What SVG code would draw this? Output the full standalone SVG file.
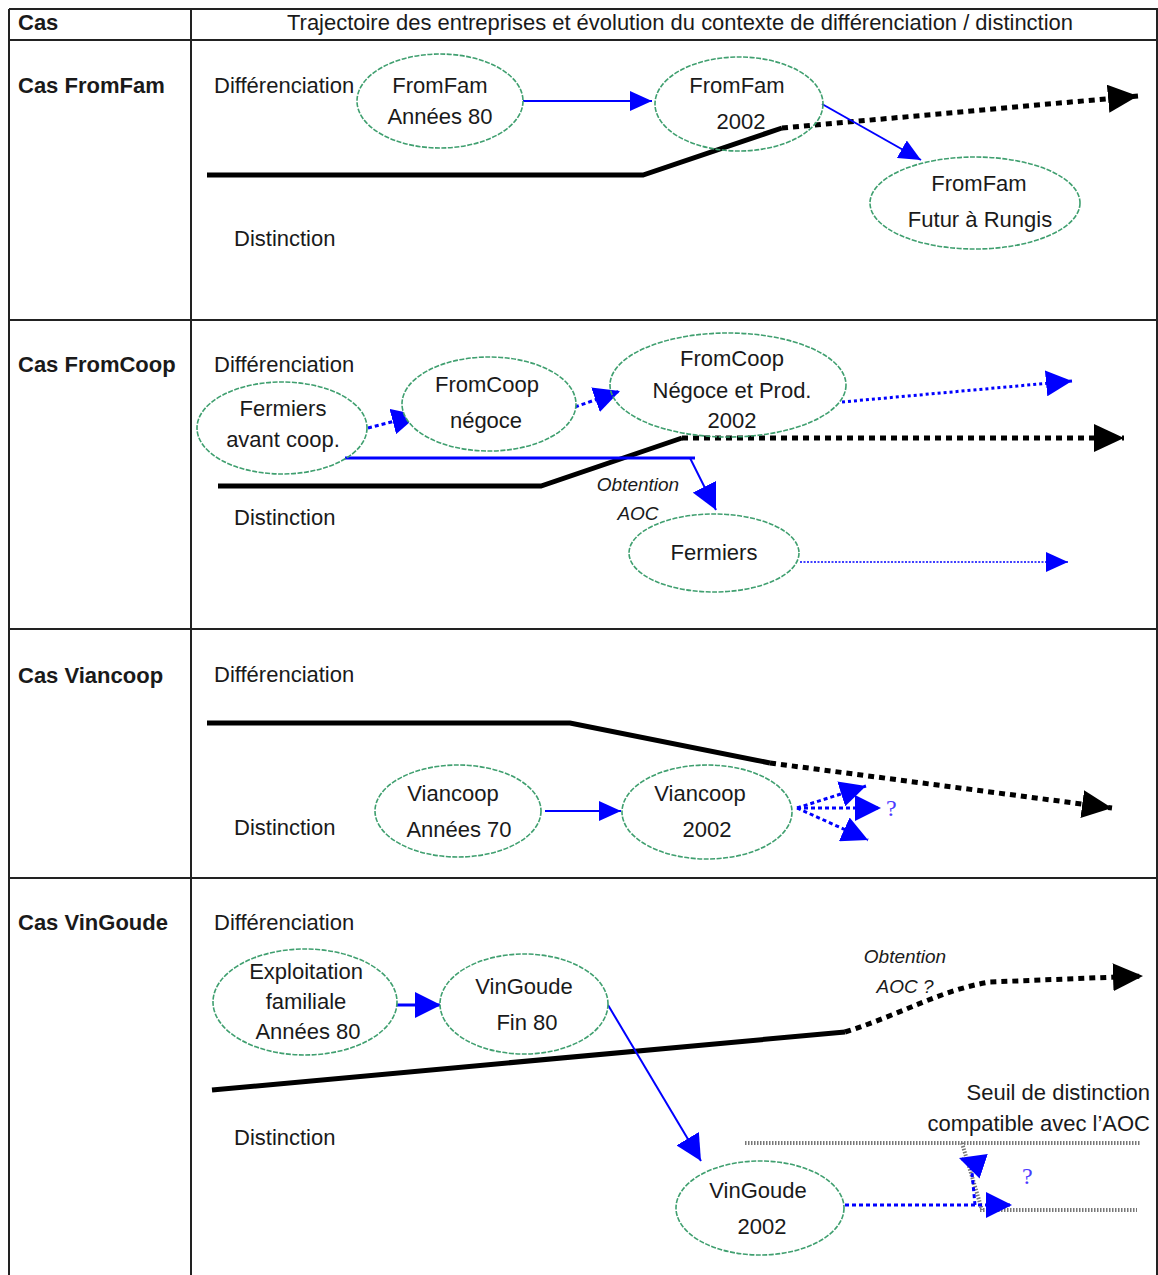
<svg xmlns="http://www.w3.org/2000/svg" width="1158" height="1275" viewBox="0 0 1158 1275">
<style>
.t{font-family:"Liberation Sans",Arial,sans-serif;font-size:22px;fill:#1a1a1a}
.c{text-anchor:middle}
.b{font-weight:bold}
.i{font-style:italic;font-size:19px}
.q{font-family:"Liberation Serif",serif;font-size:24px;fill:#4a3aff}
.grid{stroke:#222;stroke-width:2;fill:none}
.el{fill:#fff;stroke:#3f9f6f;stroke-width:1.6;stroke-dasharray:5 1.5}
.blk{stroke:#000;stroke-width:5;fill:none}
.blkd{stroke:#000;stroke-width:5;fill:none;stroke-dasharray:6 5}
.bl{stroke:#0000ff;stroke-width:2;fill:none}
.blt{stroke:#0000ff;stroke-width:3;fill:none}
.bld{stroke:#0000ff;stroke-width:3;fill:none;stroke-dasharray:4 3}
.bldt{stroke:#0000ff;stroke-width:1.5;fill:none;stroke-dasharray:2 1.5}
.gr{stroke:#777;stroke-width:4;fill:none;stroke-dasharray:1.5 1.5}
</style>
<defs>
<marker id="bh" viewBox="0 0 22 20" refX="22" refY="10" markerWidth="22" markerHeight="20" markerUnits="userSpaceOnUse" orient="auto"><path d="M0,0 L22,10 L0,20 z" fill="#0000ff"/></marker>
<marker id="bh2" viewBox="0 0 26 26" refX="26" refY="13" markerWidth="26" markerHeight="26" markerUnits="userSpaceOnUse" orient="auto"><path d="M0,0 L26,13 L0,26 z" fill="#0000ff"/></marker>
<marker id="kh" viewBox="0 0 30 28" refX="30" refY="14" markerWidth="30" markerHeight="28" markerUnits="userSpaceOnUse" orient="auto"><path d="M0,0 L30,14 L0,28 z" fill="#000"/></marker>
</defs>
<rect width="1158" height="1275" fill="#fff"/>
<g id="table">
<path class="grid" d="M9,9 H1158 M9,40 H1158 M9,9 V1275 M191,9 V1275 M1157,9 V1275 M9,320 H1158 M9,629 H1158 M9,878 H1158"/>
<text class="t b" x="18" y="30">Cas</text>
<text class="t c" x="680" y="30" textLength="786" lengthAdjust="spacingAndGlyphs">Trajectoire des entreprises et évolution du contexte de différenciation / distinction</text>
<text class="t b" x="18" y="93">Cas FromFam</text>
<text class="t b" x="18" y="372">Cas FromCoop</text>
<text class="t b" x="18" y="683">Cas Viancoop</text>
<text class="t b" x="18" y="930">Cas VinGoude</text>
<text class="t" x="214" y="93">Différenciation</text>
<text class="t" x="234" y="246">Distinction</text>
<text class="t" x="214" y="372">Différenciation</text>
<text class="t" x="234" y="525">Distinction</text>
<text class="t" x="214" y="682">Différenciation</text>
<text class="t" x="234" y="835">Distinction</text>
<text class="t" x="214" y="930">Différenciation</text>
<text class="t" x="234" y="1145">Distinction</text>
</g>
<g id="connectors">
<path class="blk" d="M207,175 H643 L782,128"/>
<path class="blkd" d="M782,128 L1138,96" marker-end="url(#kh)"/>
<path class="bl" d="M502,101 H652" marker-end="url(#bh)"/>
<path class="bl" d="M822,104 L921,160" marker-end="url(#bh)"/>
<path class="blk" d="M218,486 H541 L682,438"/>
<path class="blkd" d="M682,438 H1124" marker-end="url(#kh)"/>
<path class="bld" d="M368,428 L418,415" marker-end="url(#bh2)"/>
<path class="bld" d="M575,407 L620,391" marker-end="url(#bh2)"/>
<path class="blt" d="M345,458 H695"/>
<path class="bl" d="M690,458 L716,510" marker-end="url(#bh2)"/>
<path class="blt" d="M842,402 L1072,381" stroke-dasharray="3 3" marker-end="url(#bh2)"/>
<path class="bldt" d="M800,562 H1068" marker-end="url(#bh)"/>
<path class="blk" d="M207,723 H570 L770,763"/>
<path class="blkd" d="M770,763 L1112,808" marker-end="url(#kh)"/>
<path class="bl" d="M545,811 H621" marker-end="url(#bh)"/>
<path class="bld" d="M797,808 L866,786" marker-end="url(#bh2)"/>
<path class="bld" d="M797,808 H881" marker-end="url(#bh2)"/>
<path class="bld" d="M797,808 L868,840" marker-end="url(#bh2)"/>
<path class="blk" d="M212,1090 L845,1032"/>
<path class="blkd" d="M845,1032 C900,1015 940,990 990,982 L1143,976" marker-end="url(#kh)"/>
<path class="blt" d="M392,1005 H441" marker-end="url(#bh2)"/>
<path class="bl" d="M608,1005 L701,1161" marker-end="url(#bh2)"/>
<path class="gr" d="M745,1143 H1140 M980,1210 H1137 M962,1143 L982,1210"/>
<path class="bld" d="M845,1205 H1012" marker-end="url(#bh2)"/>
<path class="bld" d="M975,1205 L971,1162 L959,1158" stroke-dasharray="6 3" marker-end="url(#bh2)"/>
</g>
<g id="n-fromfam80"><ellipse class="el" cx="440" cy="101" rx="83" ry="47"/><text class="t c" x="440" y="93">FromFam</text><text class="t c" x="440" y="124">Années 80</text></g>
<g id="n-fromfam2002"><ellipse class="el" cx="739" cy="104" rx="84" ry="47" fill-opacity="0"/><text class="t c" x="737" y="93">FromFam</text><text class="t c" x="741" y="129">2002</text></g>
<g id="n-fromfamfutur"><ellipse class="el" cx="975" cy="203" rx="105" ry="46"/><text class="t c" x="979" y="191">FromFam</text><text class="t c" x="980" y="227">Futur à Rungis</text></g>
<g id="n-fermiersavant"><ellipse class="el" cx="282" cy="428" rx="85" ry="46" fill-opacity="0"/><text class="t c" x="283" y="416">Fermiers</text><text class="t c" x="283" y="447">avant coop.</text></g>
<g id="n-fromcoopnegoce"><ellipse class="el" cx="489" cy="404" rx="87" ry="47"/><text class="t c" x="487" y="392">FromCoop</text><text class="t c" x="486" y="428">négoce</text></g>
<g id="n-fromcoop2002"><ellipse class="el" cx="728" cy="385" rx="118" ry="52" fill-opacity="0"/><text class="t c" x="732" y="366">FromCoop</text><text class="t c" x="732" y="398">Négoce et Prod.</text><text class="t c" x="732" y="428">2002</text></g>
<g id="lbl-aoc"><text class="t c i" x="638" y="491">Obtention</text><text class="t c i" x="638" y="520">AOC</text></g>
<g id="n-fermiers"><ellipse class="el" cx="714" cy="553" rx="85" ry="39"/><text class="t c" x="714" y="560">Fermiers</text></g>
<g id="n-viancoop70"><ellipse class="el" cx="458" cy="811" rx="83" ry="46"/><text class="t c" x="453" y="801">Viancoop</text><text class="t c" x="459" y="837">Années 70</text></g>
<g id="n-viancoop2002"><ellipse class="el" cx="707" cy="812" rx="85" ry="47"/><text class="t c" x="700" y="801">Viancoop</text><text class="t c" x="707" y="837">2002</text></g>
<text class="q" x="886" y="816">?</text>
<g id="n-exploitation"><ellipse class="el" cx="305" cy="1002" rx="92" ry="53"/><text class="t c" x="306" y="979">Exploitation</text><text class="t c" x="306" y="1009">familiale</text><text class="t c" x="308" y="1039">Années 80</text></g>
<g id="n-vingoudefin80"><ellipse class="el" cx="524" cy="1004" rx="84" ry="50"/><text class="t c" x="524" y="994">VinGoude</text><text class="t c" x="527" y="1030">Fin 80</text></g>
<g id="lbl-aoc2"><text class="t c i" x="905" y="963">Obtention</text><text class="t c i" x="905" y="993">AOC ?</text></g>
<g id="n-vingoude2002"><ellipse class="el" cx="760" cy="1208" rx="84" ry="47"/><text class="t c" x="758" y="1198">VinGoude</text><text class="t c" x="762" y="1234">2002</text></g>
<g id="lbl-seuil"><text class="t" x="1150" y="1100" text-anchor="end">Seuil de distinction</text><text class="t" x="1150" y="1131" text-anchor="end">compatible avec l’AOC</text></g>
<text class="q" x="1022" y="1184">?</text>
</svg>
